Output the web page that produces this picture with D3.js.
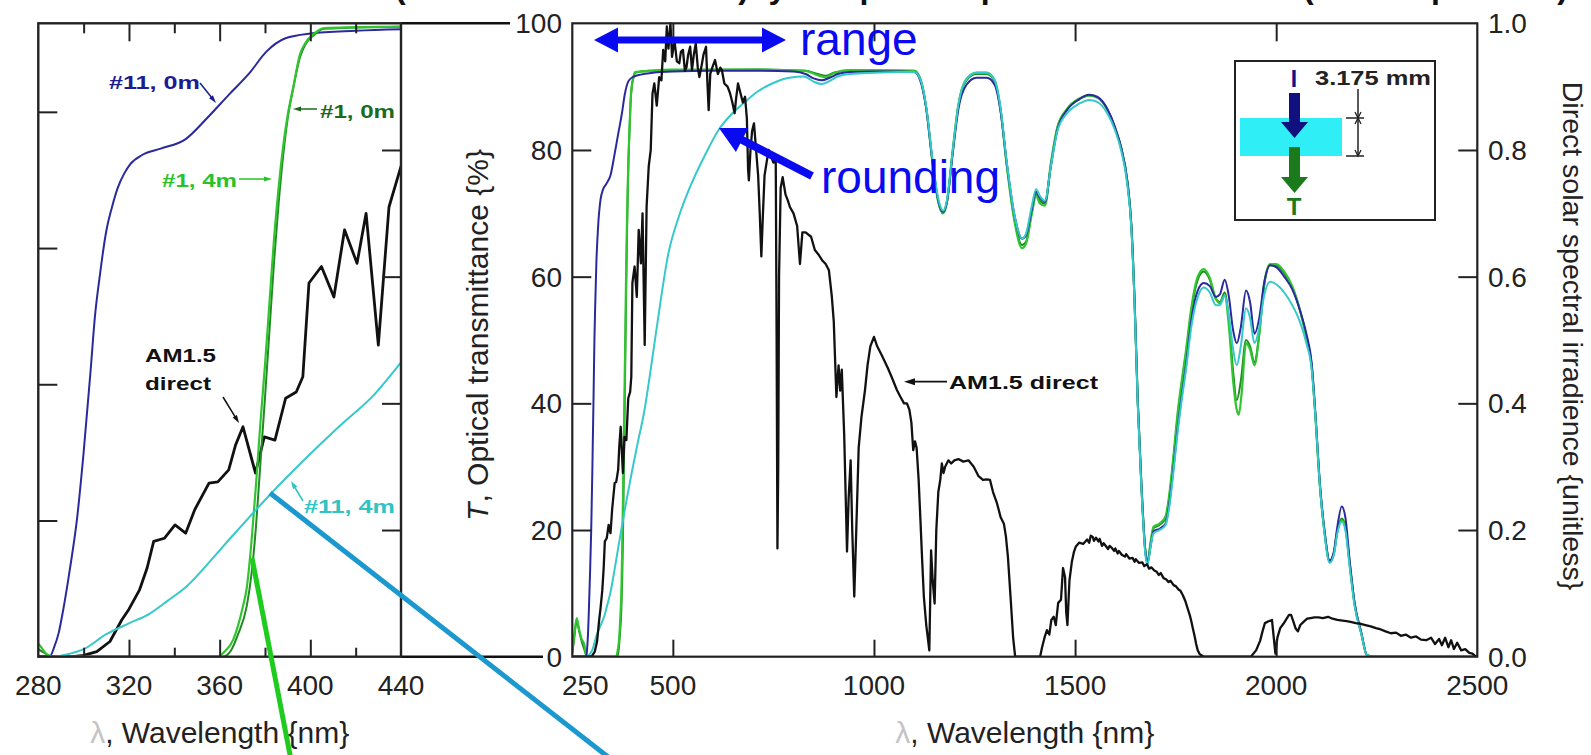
<!DOCTYPE html>
<html>
<head>
<meta charset="utf-8">
<script src="https://cdn.jsdelivr.net/npm/d3@7"></script>
<style>
  body { margin: 0; background: #fff; }
  svg { display: block; }
  text { font-family: "Liberation Sans", Arial, Helvetica, sans-serif; }
</style>
</head>
<body>
<svg id="fig" width="1591" height="755"></svg>
<script>
// ---------------- data ----------------
// Transmittance T (%) of the four samples, [wavelength nm, T]
const t11_0m = [
  [250,0],[280,0],[285,0],[287,1.4],[289,3.5],[291,6.9],[294,13],[297,20],[300,30],[303,41.7],[305,50],[307,55.6],
  [310,62.5],[312.5,66],[315,68.8],[318,71],[320.5,72.3],[326,73.7],[334,74.6],[345,76],[354.5,79.1],[364,82.5],
  [373.4,85.8],[380.5,88.8],[389,90.8],[400,91.5],[420,91.9],[450,92.2],[500,92.4],[600,92.5],[700,92.5],[800,92.4],
  [830,92.0],[850,91.3],[870,91.0],[890,91.4],[910,92.0],[940,92.3],[1000,92.4],[1060,92.4],[1100,92.3],[1115,91.0],
  [1130,86.5],[1145,78.5],[1160,72.0],[1172,70.2],[1182,72.0],[1195,79.0],[1210,86.5],[1230,90.3],[1255,91.4],[1280,91.4],
  [1300,90.3],[1315,86.0],[1330,78.0],[1350,69.5],[1368,66.0],[1378,66.5],[1392,70.5],[1403,73.4],[1412,72.5],[1425,71.8],
  [1440,77.5],[1456,83.2],[1480,86.3],[1510,88.0],[1535,88.7],[1555,88.4],[1580,86.5],[1600,83.5],[1615,80.3],[1630,75.0],
  [1640,68.0],[1648,56.0],[1656,40.0],[1665,27.0],[1675,16.5],[1680,14.8],[1688,17.5],[1695,19.8],[1710,20.2],[1725,21.0],
  [1735,24.5],[1745,30.0],[1755,36.0],[1765,41.0],[1775,45.5],[1790,53.5],[1805,57.8],[1820,59.0],[1835,58.5],[1850,56.8],
  [1860,57.2],[1872,59.5],[1882,57.0],[1893,51.5],[1902,49.5],[1912,52.0],[1925,57.8],[1935,56.0],[1946,51.0],[1958,53.5],
  [1970,59.0],[1985,61.8],[2000,61.5],[2020,60.0],[2040,58.0],[2060,54.5],[2075,51.0],[2088,46.5],[2098,38.0],[2108,28.0],
  [2120,20.0],[2133,15.2],[2143,16.5],[2152,20.5],[2163,23.7],[2172,22.0],[2183,15.0],[2195,8.5],[2212,3.7],[2225,0.3],
  [2240,0],[2500,0]
];
const t11_4m = [
  [250,0],[285,0],[292,0.3],[300,1.1],[310,3.3],[320,4.9],[329,6.3],[337,8.2],[345,10.2],[357.6,14.7],[365,17.5],
  [373.4,20.6],[382.8,24.0],[397,28.8],[412.7,33.8],[428.5,38.6],[440,43.2],[460,52.0],[489,63.7],[515,69.5],[543,74.2],
  [580,79.2],[614,83.2],[645,85.6],[676,87.4],[710,89.2],[747,90.5],[790,91.4],[826,91.6],[850,90.8],[870,90.4],[890,90.9],
  [910,91.6],[940,92.0],[1000,92.2],[1060,92.3],[1100,92.3],[1115,91.2],[1130,86.8],[1145,78.8],[1160,72.3],[1172,70.4],
  [1182,72.3],[1195,79.5],[1210,87.2],[1230,91.2],[1255,92.2],[1280,92.2],[1300,91.0],[1315,86.5],[1330,78.2],[1350,69.5],
  [1368,66.0],[1378,66.8],[1392,71.0],[1403,73.8],[1412,72.8],[1425,72.0],[1440,77.5],[1456,83.0],[1480,85.8],[1510,87.3],
  [1535,87.9],[1555,87.6],[1580,85.8],[1600,83.0],[1615,79.8],[1630,74.5],[1640,67.5],[1648,55.5],[1656,39.5],[1665,26.5],
  [1675,16.0],[1680,14.5],[1688,17.5],[1695,19.5],[1710,20.0],[1725,20.8],[1735,24.0],[1745,29.5],[1755,35.5],[1765,40.5],
  [1775,45.0],[1790,52.5],[1805,56.8],[1820,58.3],[1835,57.5],[1850,55.5],[1860,55.5],[1872,57.0],[1882,54.0],[1893,48.5],
  [1902,46.0],[1912,49.0],[1925,55.0],[1935,53.5],[1946,49.5],[1958,52.0],[1970,57.0],[1985,59.2],[2000,58.8],[2020,57.5],
  [2040,55.5],[2060,52.7],[2075,49.5],[2088,45.5],[2098,37.5],[2108,27.5],[2120,19.5],[2133,14.8],[2143,16.0],[2152,19.5],
  [2163,21.3],[2172,20.0],[2183,14.0],[2195,8.0],[2212,3.5],[2225,0.3],[2240,0],[2500,0]
];
const t1_0m = [
  [250,0.5],[255,3.0],[261,5.8],[267,4.0],[273,2.5],[280,1.1],[283,0.5],[286,0],[361.5,0],[365,0.9],[368,3.2],[372,7.5],
  [374,12],[376,19],[378,28.5],[380,38],[382,48],[384,58],[386,66.5],[388,73.5],[390,79],[392.5,83.5],[395.4,88],[398,90],
  [401.7,91.3],[406,92.2],[440,92.5],[500,92.6],[700,92.7],[830,92.5],[860,92.0],[880,91.7],[900,92.2],[940,92.6],
  [1100,92.5],[1115,91.2],[1130,86.6],[1145,78.3],[1160,71.8],[1172,70.0],[1182,72.0],[1195,79.3],[1210,87.0],[1230,91.0],
  [1255,92.0],[1280,92.0],[1300,90.8],[1315,86.2],[1330,77.8],[1350,68.8],[1368,65.0],[1378,65.5],[1392,70.0],[1403,73.0],
  [1412,72.0],[1425,71.5],[1440,77.8],[1456,83.5],[1480,86.4],[1510,88.0],[1535,88.6],[1555,88.3],[1580,86.4],[1600,83.3],
  [1615,80.2],[1630,75.0],[1640,68.0],[1648,56.0],[1656,40.0],[1665,27.0],[1675,16.5],[1680,14.8],[1688,18.0],[1695,20.3],
  [1710,20.8],[1725,21.8],[1735,25.5],[1745,31.5],[1755,38.0],[1765,43.0],[1775,47.5],[1790,55.0],[1805,59.5],[1820,60.8],
  [1835,59.5],[1850,56.5],[1860,56.0],[1872,57.5],[1882,53.5],[1893,45.0],[1902,40.5],[1912,43.5],[1925,50.0],[1935,49.0],
  [1946,46.5],[1958,51.0],[1970,58.5],[1985,61.8],[2000,61.8],[2020,60.5],[2040,58.3],[2060,54.5],[2075,50.5],[2088,46.0],
  [2098,37.5],[2108,27.5],[2120,19.8],[2133,15.0],[2143,16.2],[2152,19.8],[2163,21.8],[2172,20.5],[2183,14.5],[2195,8.3],
  [2212,3.6],[2225,0.3],[2240,0],[2500,0]
];
const t1_4m = [
  [250,0.8],[255,3.5],[261,6.1],[267,4.3],[273,2.8],[280,1.9],[284,0.3],[287,0],[359,0],[362,0.7],[366,2.5],[370,7.0],
  [372,10.2],[374,16.7],[376,25.1],[378,34.4],[380,42.8],[382,52.1],[384,61.4],[386,68.8],[388,74.9],[390,79.5],[392.5,83.7],
  [395.4,88.4],[398,90.2],[401.7,91.5],[406,92.3],[440,92.5],[500,92.7],[700,92.7],[830,92.5],[860,91.8],[880,91.5],
  [900,92.1],[940,92.6],[1100,92.5],[1115,91.3],[1130,86.7],[1145,78.4],[1160,71.8],[1172,70.0],[1182,72.0],[1195,79.5],
  [1210,87.2],[1230,91.2],[1255,92.2],[1280,92.2],[1300,91.0],[1315,86.3],[1330,77.6],[1350,68.5],[1368,64.5],[1378,65.2],
  [1392,69.8],[1403,72.8],[1412,71.6],[1425,71.2],[1440,78.0],[1456,83.6],[1480,86.5],[1510,88.1],[1535,88.6],[1555,88.3],
  [1580,86.4],[1600,83.3],[1615,80.2],[1630,75.0],[1640,68.0],[1648,56.0],[1656,40.0],[1665,27.0],[1675,16.5],[1680,15.0],
  [1688,18.2],[1695,20.5],[1710,21.0],[1725,22.2],[1735,26.0],[1745,32.0],[1755,38.5],[1765,43.5],[1775,48.0],[1790,55.5],
  [1805,60.0],[1820,61.2],[1835,59.8],[1850,56.5],[1860,55.8],[1872,57.0],[1882,52.5],[1893,43.5],[1902,39.0],[1907,38.2],
  [1914,41.5],[1925,49.5],[1935,48.5],[1946,46.0],[1958,51.0],[1970,58.8],[1985,62.0],[2000,62.0],[2020,60.8],[2040,58.5],
  [2060,54.5],[2075,50.5],[2088,46.0],[2098,37.5],[2108,27.5],[2120,19.8],[2133,15.0],[2143,16.2],[2152,19.8],[2163,21.5],
  [2172,20.3],[2183,14.5],[2195,8.3],[2212,3.6],[2225,0.3],[2240,0],[2500,0]
];
// AM1.5 direct solar spectral irradiance (normalised, unitless)
const am15 = [
  [250,0],[295,0],[300,0.002],[305.8,0.008],[311.6,0.024],[316.8,0.058],[320,0.075],[324.6,0.105],[328,0.14],[330.9,0.182],
  [335.6,0.187],[340.3,0.208],[345,0.195],[349,0.232],[355.3,0.274],[359.2,0.276],[364,0.295],[367,0.334],[370.3,0.363],
  [375.8,0.29],[379.7,0.347],[384.4,0.342],[389.1,0.408],[393.8,0.418],[396.7,0.442],[399.4,0.59],[404.9,0.616],[410.4,0.568],
  [415.1,0.674],[420.6,0.621],[424.6,0.70],[430,0.492],[434.7,0.71],[440,0.774],[445,0.80],[449.4,0.889],[453.9,0.905],
  [460,0.87],[466,0.915],[471.6,0.91],[476,0.958],[481,0.94],[485,0.995],[489,0.96],[494,1.0],[498,0.947],[504,0.973],
  [510,0.94],[516,0.937],[520,0.955],[525,0.958],[530,0.925],[534,0.931],[538,0.95],[543,0.963],[547.6,0.926],[552,0.95],
  [557,0.968],[562,0.93],[566,0.915],[572,0.935],[576,0.95],[582.5,0.963],[586,0.905],[589,0.863],[593,0.92],[598,0.93],
  [604.8,0.942],[612,0.92],[618,0.93],[622,0.926],[628,0.905],[636,0.90],[642,0.89],[648,0.875],[653.6,0.858],[657,0.88],
  [662,0.905],[668,0.89],[674,0.875],[679.5,0.884],[684,0.85],[687,0.77],[689,0.752],[693,0.80],[697,0.83],[701.7,0.842],
  [707,0.80],[712,0.76],[716,0.70],[720,0.632],[724,0.70],[728,0.76],[733,0.78],[738,0.80],[744,0.79],[750,0.78],
  [755.8,0.784],[758,0.5],[760,0.171],[762,0.3],[764,0.6],[768,0.74],[773,0.757],[780,0.73],[786,0.72],[791,0.71],
  [800,0.70],[809,0.68],[816,0.62],[822,0.67],[830,0.67],[843.6,0.663],[853,0.642],[862,0.635],[871,0.626],[880,0.62],
  [888,0.61],[895,0.57],[900,0.53],[906.6,0.41],[912,0.46],[916,0.42],[920,0.453],[926,0.35],[933,0.166],[937,0.25],
  [942,0.31],[946,0.2],[951,0.095],[956,0.2],[962,0.33],[969,0.379],[977.7,0.421],[984,0.46],[991,0.49],[1000,0.505],
  [1008,0.49],[1020,0.475],[1035,0.455],[1045,0.44],[1057,0.421],[1066,0.41],[1074.7,0.40],[1082,0.40],[1088,0.39],
  [1093,0.37],[1097.6,0.326],[1102,0.34],[1106,0.33],[1111,0.28],[1115.5,0.216],[1120,0.15],[1124,0.095],[1130,0.05],
  [1137.6,0.01],[1142,0.168],[1146,0.12],[1150.8,0.084],[1155,0.2],[1160,0.26],[1165,0.28],[1168.7,0.305],[1173,0.29],
  [1177,0.30],[1185,0.31],[1192,0.305],[1199.8,0.31],[1210,0.312],[1222,0.308],[1235,0.31],[1248,0.30],[1260,0.285],
  [1271,0.279],[1280,0.28],[1288.5,0.279],[1296,0.26],[1306,0.242],[1315,0.22],[1323,0.21],[1328,0.19],[1333,0.158],
  [1340,0.09],[1346,0.03],[1351,0],[1413,0],[1418,0.015],[1424,0.03],[1430,0.042],[1436,0.035],[1441,0.058],[1447,0.063],
  [1452,0.05],[1458,0.085],[1465,0.09],[1470,0.14],[1475,0.126],[1478,0.07],[1481,0.05],[1486,0.12],[1492,0.15],
  [1497,0.165],[1502,0.174],[1510,0.18],[1520,0.178],[1530,0.185],[1535,0.18],[1539,0.191],[1544,0.189],[1547,0.183],
  [1552,0.188],[1558,0.182],[1561,0.186],[1567,0.175],[1571,0.179],[1575,0.176],[1582,0.17],[1586,0.175],[1591,0.172],
  [1597,0.167],[1600,0.171],[1606,0.163],[1609,0.167],[1616,0.161],[1624,0.158],[1627,0.162],[1635,0.155],[1643,0.156],
  [1648,0.15],[1651,0.154],[1659,0.148],[1667,0.149],[1672,0.143],[1679,0.146],[1684,0.139],[1690,0.141],[1697,0.136],
  [1703,0.134],[1708,0.129],[1713,0.132],[1720,0.124],[1727,0.122],[1732,0.118],[1737,0.12],[1745,0.113],[1751,0.111],
  [1757,0.106],[1762,0.104],[1768,0.097],[1774,0.088],[1780,0.076],[1785,0.066],[1789,0.056],[1793,0.044],[1797,0.033],
  [1801,0.02],[1805,0.01],[1810,0.004],[1820,0],[1937,0],[1950,0.01],[1960,0.025],[1966,0.04],[1972,0.053],
  [1981,0.056],[1989.5,0.058],[1994,0.03],[1998,0.005],[2003,0.03],[2010,0.045],[2018,0.052],[2026,0.06],[2032,0.066],
  [2037,0.066],[2043,0.055],[2048,0.045],[2054,0.04],[2060,0.05],[2068,0.055],[2077,0.06],[2085.5,0.061],[2095,0.062],
  [2105,0.062],[2116,0.061],[2129,0.063],[2140,0.06],[2152,0.058],[2165,0.057],[2175,0.056],[2185,0.055],[2198,0.053],
  [2210,0.052],[2222,0.05],[2235,0.048],[2248,0.045],[2260,0.043],[2272,0.04],[2285,0.037],[2298,0.038],[2310,0.033],
  [2322,0.035],[2335,0.03],[2348,0.032],[2360,0.027],[2373,0.026],[2385,0.03],[2395,0.02],[2405,0.028],[2412,0.018],
  [2420,0.03],[2428,0.015],[2435,0.026],[2442,0.012],[2450,0.022],[2460,0.01],[2470,0.012],[2480,0.006],[2488,0.005],
  [2495,0.001],[2500,0]
];

// axis ticks and labels
const mainXTicks = [500, 1000, 1500, 2000];
const mainXLabels = [250, 500, 1000, 1500, 2000, 2500];
const mainTTicks = [20, 40, 60, 80];
const mainTLabels = [0, 20, 40, 60, 80, 100];
const mainETicks = [0.2, 0.4, 0.6, 0.8];
const mainELabels = [0, 0.2, 0.4, 0.6, 0.8, 1.0];
const insetXMajor = [320, 360, 400];
const insetXMinor = [300, 340, 380, 420];
const insetXLabels = [280, 320, 360, 400, 440];
const insetTTicks = [20, 40, 60, 80];
const insetETicks = [0.2, 0.4, 0.6, 0.8];

// heading line running above the frame (words and their start positions)
const headingWords = [
  ["(0 m and 4 m outdoors)", 395], ["by", 749], ["optical", 840], ["spectra", 963],
  ["versus solar", 1082], ["(ASTM spectrum)", 1303]
];

// series styling
const seriesList = [
  { data: t1_0m,  color: "#218a21", width: 2.0 },
  { data: t1_4m,  color: "#30c530", width: 2.2 },
  { data: t11_0m, color: "#2a2a9c", width: 2.0 },
  { data: t11_4m, color: "#35c9c9", width: 2.0 }
];

// ---------------- layout ----------------
const svg = d3.select("#fig");
const M = { l: 572.3, r: 1477.3, t: 23.3, b: 656.7 };   // main frame
const I = { l: 38.3, r: 401, t: 23.3, b: 656.7 };       // zoom frame

const xMain = d3.scaleLinear().domain([250, 2500]).range([M.l, M.r]);
const yT = d3.scaleLinear().domain([0, 100]).range([M.b, M.t]);
const yE = d3.scaleLinear().domain([0, 1]).range([M.b, M.t]);
const xIns = d3.scaleLinear().domain([280, 440]).range([I.l, I.r]);
const yTIns = d3.scaleLinear().domain([0, 93]).range([I.b, I.t]);
const yEIns = d3.scaleLinear().domain([0, 1]).range([I.b, I.t]);

const defs = svg.append("defs");
defs.append("clipPath").attr("id", "clipMain").append("rect")
  .attr("x", M.l).attr("y", M.t - 2).attr("width", M.r - M.l).attr("height", M.b - M.t + 2);
defs.append("clipPath").attr("id", "clipIns").append("rect")
  .attr("x", I.l).attr("y", I.t - 2).attr("width", I.r - I.l).attr("height", I.b - I.t + 2);

function arrow(parent, x1, y1, x2, y2, color, w, hl, hw) {
  const dx = x2 - x1, dy = y2 - y1, L = Math.hypot(dx, dy), ux = dx / L, uy = dy / L;
  const bx = x2 - ux * hl, by = y2 - uy * hl;
  parent.append("line").attr("x1", x1).attr("y1", y1).attr("x2", bx + ux).attr("y2", by + uy)
    .attr("stroke", color).attr("stroke-width", w);
  parent.append("path")
    .attr("d", `M${x2},${y2}L${bx - uy * hw / 2},${by + ux * hw / 2}L${bx + uy * hw / 2},${by - ux * hw / 2}Z`)
    .attr("fill", color);
}
function noDomain(g) { g.select(".domain").remove(); }

// heading, only its lower edge falls inside the picture
const heading = svg.append("text").attr("y", -2).attr("font-size", 32).attr("font-weight", "bold").attr("fill", "#111");
headingWords.forEach(([w, x]) => heading.append("tspan").attr("x", x).attr("y", -2).text(w));

// ---------------- main panel ----------------
const main = svg.append("g");
const curves = main.append("g").attr("clip-path", "url(#clipMain)");
const lineMain = d3.line().x(d => xMain(d[0])).y(d => yT(d[1])).curve(d3.curveMonotoneX);
seriesList.forEach(s => {
  curves.append("path").datum(s.data).attr("d", lineMain)
    .attr("fill", "none").attr("stroke", s.color).attr("stroke-width", s.width).attr("stroke-linejoin", "round");
});
const lineSun = d3.line().x(d => xMain(d[0])).y(d => yE(d[1]));
curves.append("path").datum(am15).attr("d", lineSun)
  .attr("fill", "none").attr("stroke", "#111").attr("stroke-width", 2.3).attr("stroke-linejoin", "round");

// frame and inward ticks
main.append("rect").attr("x", M.l).attr("y", M.t).attr("width", M.r - M.l).attr("height", M.b - M.t)
  .attr("fill", "none").attr("stroke", "#222").attr("stroke-width", 2.2);
const tickStyle = g => g.selectAll(".tick line").attr("stroke", "#222").attr("stroke-width", 2);
main.append("g").attr("transform", `translate(0,${M.b})`)
  .call(d3.axisBottom(xMain).tickValues(mainXTicks).tickSize(-17).tickFormat("")).call(noDomain).call(tickStyle);
main.append("g").attr("transform", `translate(0,${M.t})`)
  .call(d3.axisTop(xMain).tickValues(mainXTicks).tickSize(-18).tickFormat("")).call(noDomain).call(tickStyle);
main.append("g").attr("transform", `translate(${M.l},0)`)
  .call(d3.axisLeft(yT).tickValues(mainTTicks).tickSize(-19).tickFormat("")).call(noDomain).call(tickStyle);
main.append("g").attr("transform", `translate(${M.r},0)`)
  .call(d3.axisRight(yE).tickValues(mainETicks).tickSize(-19).tickFormat("")).call(noDomain).call(tickStyle);

// tick labels
const lab = svg.append("g").attr("font-size", 28).attr("fill", "#222");
lab.selectAll(".xl").data(mainXLabels).join("text")
  .attr("x", d => xMain(d) + (d === 250 ? 13 : 0)).attr("y", 695).attr("text-anchor", "middle").text(d => d);
lab.selectAll(".yl").data(mainTLabels).join("text")
  .attr("x", 562).attr("y", d => yT(d) + 10).attr("text-anchor", "end").text(d => d);
lab.selectAll(".el").data(mainELabels).join("text")
  .attr("x", 1488).attr("y", d => yE(d) + 10).attr("text-anchor", "start").text(d => d.toFixed(1));
lab.selectAll(".il").data(insetXLabels).join("text")
  .attr("x", d => xIns(d)).attr("y", 695).attr("text-anchor", "middle").text(d => d);

// connectors from the zoom frame to the main scale
svg.append("line").attr("x1", I.r).attr("y1", I.t).attr("x2", 510).attr("y2", M.t).attr("stroke", "#111").attr("stroke-width", 2.6);
svg.append("line").attr("x1", I.r).attr("y1", I.b).attr("x2", 543).attr("y2", M.b).attr("stroke", "#111").attr("stroke-width", 2.6);

// axis titles
function waveTitle(cx) {
  const t = svg.append("text").attr("x", cx).attr("y", 743).attr("text-anchor", "middle")
    .attr("font-size", 30).attr("fill", "#222");
  t.append("tspan").attr("fill", "#c4c4c4").text("λ");
  t.append("tspan").text(", Wavelength {nm}");
}
waveTitle((M.l + M.r) / 2);
waveTitle((I.l + I.r) / 2);
const yTitle = svg.append("text").attr("transform", "translate(488,335) rotate(-90)")
  .attr("text-anchor", "middle").attr("font-size", 30).attr("fill", "#222");
yTitle.append("tspan").attr("font-style", "italic").text("T");
yTitle.append("tspan").text(", Optical transmittance {%}");
svg.append("text").attr("transform", "translate(1563,336) rotate(90)")
  .attr("text-anchor", "middle").attr("font-size", 28.5).attr("fill", "#222")
  .text("Direct solar spectral irradience {unitless}");

// annotations in the main panel
const ann = svg.append("g");
arrow(ann, 690, 40, 594, 40, "#0a0af0", 7, 24, 25);
arrow(ann, 690, 40, 786, 40, "#0a0af0", 7, 24, 25);
ann.append("text").attr("x", 800).attr("y", 55).attr("font-size", 46).attr("fill", "#0a0af0").text("range");
arrow(ann, 812, 176, 719, 128, "#0a0af0", 8, 26, 27);
ann.append("text").attr("x", 821).attr("y", 193).attr("font-size", 46).attr("fill", "#0a0af0").text("rounding");
arrow(ann, 947, 381.7, 904, 381.7, "#111", 1.8, 11, 7);
ann.append("text").attr("x", 949).attr("y", 388.5).attr("font-size", 19).attr("font-weight", "bold")
  .attr("textLength", 149).attr("lengthAdjust", "spacingAndGlyphs").attr("fill", "#111").text("AM1.5 direct");

// sample sketch
const sk = svg.append("g");
sk.append("rect").attr("x", 1235).attr("y", 61).attr("width", 200).attr("height", 159)
  .attr("fill", "#fff").attr("stroke", "#222").attr("stroke-width", 2);
sk.append("rect").attr("x", 1240).attr("y", 118).attr("width", 102).attr("height", 38).attr("fill", "#30eef5");
sk.append("text").attr("x", 1294).attr("y", 87).attr("text-anchor", "middle").attr("font-size", 23)
  .attr("font-weight", "bold").attr("fill", "#14148a").text("I");
sk.append("rect").attr("x", 1289).attr("y", 93).attr("width", 11).attr("height", 30).attr("fill", "#10107e");
sk.append("path").attr("d", "M1281,122L1308,122L1294.5,138Z").attr("fill", "#10107e");
sk.append("rect").attr("x", 1289).attr("y", 147).attr("width", 11).attr("height", 31).attr("fill", "#1b7a1b");
sk.append("path").attr("d", "M1281,177L1308,177L1294.5,193Z").attr("fill", "#1b7a1b");
sk.append("text").attr("x", 1294).attr("y", 215).attr("text-anchor", "middle").attr("font-size", 24)
  .attr("font-weight", "bold").attr("fill", "#1b7a1b").text("T");
sk.append("text").attr("x", 1315).attr("y", 85).attr("font-size", 20).attr("font-weight", "bold")
  .attr("textLength", 116).attr("lengthAdjust", "spacingAndGlyphs").attr("fill", "#222").text("3.175 mm");
sk.append("line").attr("x1", 1358).attr("y1", 89).attr("x2", 1358).attr("y2", 156).attr("stroke", "#222").attr("stroke-width", 1.5);
sk.append("line").attr("x1", 1346).attr("y1", 118).attr("x2", 1364).attr("y2", 118).attr("stroke", "#222").attr("stroke-width", 1.5);
sk.append("line").attr("x1", 1346).attr("y1", 156).attr("x2", 1364).attr("y2", 156).attr("stroke", "#222").attr("stroke-width", 1.5);
sk.append("path").attr("d", "M1355,112L1358,118L1361,112M1355,124L1358,118L1361,124M1355,150L1358,156L1361,150")
  .attr("fill", "none").attr("stroke", "#222").attr("stroke-width", 1.3);

// ---------------- zoomed UV panel ----------------
const ins = svg.append("g");
const insCurves = ins.append("g").attr("clip-path", "url(#clipIns)");
const lineIns = d3.line().x(d => xIns(d[0])).y(d => yTIns(d[1])).curve(d3.curveMonotoneX);
const lineInsSun = d3.line().x(d => xIns(d[0])).y(d => yEIns(d[1]));
insCurves.append("path").datum(t11_0m).attr("d", lineIns).attr("fill", "none").attr("stroke", "#2a2a9c").attr("stroke-width", 2);
insCurves.append("path").datum(am15).attr("d", lineInsSun).attr("fill", "none").attr("stroke", "#111")
  .attr("stroke-width", 2.8).attr("stroke-linejoin", "round");
insCurves.append("path").datum(t1_0m).attr("d", lineIns).attr("fill", "none").attr("stroke", "#218a21").attr("stroke-width", 2);
insCurves.append("path").datum(t1_4m).attr("d", lineIns).attr("fill", "none").attr("stroke", "#30c530").attr("stroke-width", 2.2);
insCurves.append("path").datum(t11_4m).attr("d", lineIns).attr("fill", "none").attr("stroke", "#35c9c9").attr("stroke-width", 2);

ins.append("rect").attr("x", I.l).attr("y", I.t).attr("width", I.r - I.l).attr("height", I.b - I.t)
  .attr("fill", "none").attr("stroke", "#222").attr("stroke-width", 2.4);
ins.append("g").attr("transform", `translate(0,${I.b})`)
  .call(d3.axisBottom(xIns).tickValues(insetXMajor).tickSize(-17).tickFormat("")).call(noDomain).call(tickStyle);
ins.append("g").attr("transform", `translate(0,${I.b})`)
  .call(d3.axisBottom(xIns).tickValues(insetXMinor).tickSize(-9).tickFormat("")).call(noDomain).call(tickStyle);
ins.append("g").attr("transform", `translate(0,${I.t})`)
  .call(d3.axisTop(xIns).tickValues(insetXMajor).tickSize(-18).tickFormat("")).call(noDomain).call(tickStyle);
ins.append("g").attr("transform", `translate(0,${I.t})`)
  .call(d3.axisTop(xIns).tickValues(insetXMinor).tickSize(-10).tickFormat("")).call(noDomain).call(tickStyle);
ins.append("g").attr("transform", `translate(${I.l},0)`)
  .call(d3.axisLeft(yTIns).tickValues(insetTTicks).tickSize(-19).tickFormat("")).call(noDomain).call(tickStyle);
ins.append("g").attr("transform", `translate(${I.r},0)`)
  .call(d3.axisRight(yEIns).tickValues(insetETicks).tickSize(-19).tickFormat("")).call(noDomain).call(tickStyle);

// curve labels
const cl = svg.append("g").attr("font-weight", "bold").attr("font-size", 19);
function clabel(x, y, w, color, txt) {
  cl.append("text").attr("x", x).attr("y", y).attr("fill", color)
    .attr("textLength", w).attr("lengthAdjust", "spacingAndGlyphs").text(txt);
}
clabel(109, 89, 91, "#1c1c90", "#11, 0m");
arrow(cl, 200, 83, 216, 103, "#1c1c90", 1.5, 8, 5);
clabel(320, 118, 75, "#1a6b1a", "#1, 0m");
arrow(cl, 317, 109, 293, 109, "#1a6b1a", 1.5, 8, 5);
clabel(162, 187, 75, "#2ac22a", "#1, 4m");
arrow(cl, 239, 179, 272, 179, "#2ac22a", 1.5, 8, 5);
clabel(145, 361.7, 71, "#111", "AM1.5");
clabel(145, 390, 66, "#111", "direct");
arrow(cl, 223, 397, 239, 423, "#111", 1.5, 8, 5);
clabel(304, 513, 91, "#2ec4c4", "#11, 4m");
arrow(cl, 303, 501, 291, 481, "#2ec4c4", 1.5, 8, 5);

// callout strokes over the figure
svg.append("line").attr("x1", 252).attr("y1", 558).attr("x2", 291).attr("y2", 760)
  .attr("stroke", "#1ecb1e").attr("stroke-width", 5);
svg.append("line").attr("x1", 270).attr("y1", 493).attr("x2", 612).attr("y2", 760)
  .attr("stroke", "#1a98cf").attr("stroke-width", 5);
</script>
</body>
</html>
